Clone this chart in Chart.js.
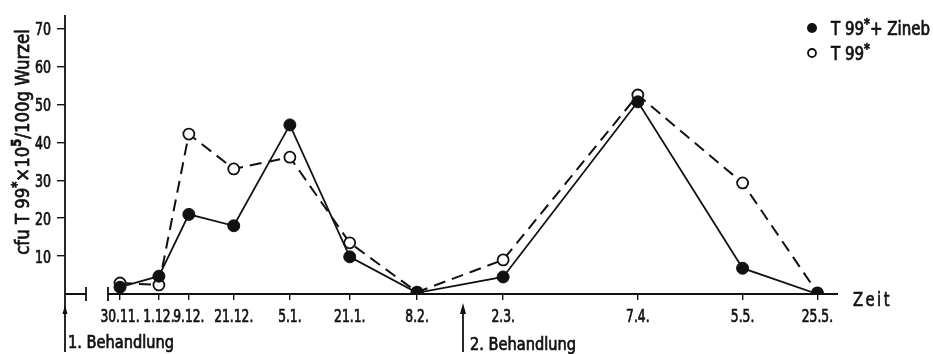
<!DOCTYPE html>
<html>
<head>
<meta charset="utf-8">
<script src="https://cdn.jsdelivr.net/npm/chart.js@4/dist/chart.umd.min.js"></script>
<style>
  html, body { margin: 0; padding: 0; background: #fff; }
  #wrap { width: 933px; height: 354px; }
</style>
</head>
<body>
<div id="wrap"><canvas id="cfuChart" width="933" height="354"></canvas></div>
<script>
// Probenahmetermine (Tage ab 1.12.; 30.11. ist im Original nicht maßstäblich eingetragen)
var dateLabels = ['30.11.', '1.12.', '9.12.', '21.12.', '5.1.', '21.1.', '8.2.', '2.3.', '7.4.', '5.5.', '25.5.'];
var dayOffsets = [-10.4, 0, 8, 20, 35, 51, 69, 92, 128, 156, 176];

// cfu T 99* x 10^5 / 100 g Wurzel
var withZineb = [1.8, 4.7, 21, 18, 44.6, 9.8, 0.3, 4.5, 50.7, 6.8, 0];
var withoutZineb = [2.9, 2.4, 42.2, 33, 36.1, 13.5, 0.5, 9, 52.5, 29.3, 0.3];

var yTicks = [0, 10, 20, 30, 40, 50, 60, 70];

var FONT = '"DejaVu Sans Condensed", "DejaVu Sans", sans-serif';

// Text horizontal gestaucht zeichnen (schmale Schrift wie im Original); parts: [{t, sup}]
function drawText(ctx, parts, x, y, size, align, sx) {
    if (typeof parts === 'string') parts = [{ t: parts }];
    var fontOf = function(p) { return (p.sup ? 'bold ' + Math.round(size * 0.72) : size) + 'px ' + FONT; };
    var widths = parts.map(function(p) {
        ctx.font = fontOf(p);
        return ctx.measureText(p.t).width * sx;
    });
    var total = widths.reduce(function(a, b) { return a + b; }, 0);
    var cx = align === 'center' ? x - total / 2 : align === 'right' ? x - total : x;
    parts.forEach(function(p, i) {
        ctx.save();
        ctx.font = fontOf(p);
        ctx.textAlign = 'left';
        ctx.translate(cx, p.sup ? y - size * 0.38 : y);
        ctx.scale(sx, 1);
        ctx.lineWidth = 0.7;
        ctx.fillText(p.t, 0, 0);
        ctx.strokeText(p.t, 0, 0);
        ctx.restore();
        cx += widths[i];
    });
    return total;
}

var decorations = {
    id: 'decorations',
    afterDraw: function(chart) {
        var ctx = chart.ctx;
        var xs = chart.scales.x, ys = chart.scales.y;
        var x0 = chart.chartArea.left, yb = ys.getPixelForValue(0);
        ctx.save();
        ctx.strokeStyle = '#111';
        ctx.fillStyle = '#111';
        ctx.lineWidth = 1.8;

        // y-Achse, nach unten als Pfeil "1. Behandlung" verlängert
        ctx.beginPath();
        ctx.moveTo(x0, chart.chartArea.top);
        ctx.lineTo(x0, 352);
        ctx.stroke();
        ctx.beginPath();
        ctx.moveTo(x0, 305); ctx.lineTo(x0 - 2.5, 314); ctx.lineTo(x0 + 2.5, 314); ctx.closePath();
        ctx.fill();

        // x-Achse mit Unterbrechung
        var b1 = x0 + 21, b2 = x0 + 43;
        ctx.beginPath();
        ctx.moveTo(x0, yb); ctx.lineTo(b1, yb);
        ctx.moveTo(b2, yb); ctx.lineTo(chart.chartArea.right, yb);
        ctx.moveTo(b1, yb - 7); ctx.lineTo(b1, yb + 7);
        ctx.moveTo(b2, yb - 7); ctx.lineTo(b2, yb + 7);
        ctx.stroke();

        // Pfeil "2. Behandlung"
        var xa = 463;
        ctx.beginPath();
        ctx.moveTo(xa, 312); ctx.lineTo(xa, 352);
        ctx.stroke();
        ctx.beginPath();
        ctx.moveTo(xa, 303); ctx.lineTo(xa - 3, 314); ctx.lineTo(xa + 3, 314); ctx.closePath();
        ctx.fill();

        ctx.textBaseline = 'alphabetic';

        // Achsenbeschriftungen
        xs.ticks.forEach(function(t, i) {
            drawText(ctx, dateLabels[i], xs.getPixelForValue(t.value), 322, 18, 'center', 0.76);
        });
        ys.ticks.forEach(function(t) {
            if (t.value === 0) return;
            drawText(ctx, String(t.value), 51, ys.getPixelForValue(t.value) + 6.5, 18, 'right', 0.78);
        });

        drawText(ctx, '1. Behandlung', x0 + 3, 348, 18, 'left', 0.9);
        drawText(ctx, '2. Behandlung', xa + 7, 350, 18, 'left', 0.9);

        // "Zeit"
        if ('letterSpacing' in ctx) ctx.letterSpacing = '3px';
        drawText(ctx, 'Zeit', chart.chartArea.right + 15, 306, 20, 'left', 0.82);
        if ('letterSpacing' in ctx) ctx.letterSpacing = '0px';

        // y-Achsentitel
        ctx.save();
        ctx.translate(29, 142);
        ctx.rotate(-Math.PI / 2);
        drawText(ctx, [{ t: 'cfu T 99' }, { t: '*', sup: true }, { t: '×10' }, { t: '5', sup: true }, { t: '/100g Wurzel' }], 0, 0, 20, 'center', 0.92);
        ctx.restore();

        // Legende
        ctx.beginPath();
        ctx.arc(812, 28, 5, 0, Math.PI * 2);
        ctx.fill();
        ctx.beginPath();
        ctx.lineWidth = 1.8;
        ctx.arc(812, 53, 4, 0, Math.PI * 2);
        ctx.stroke();
        drawText(ctx, [{ t: 'T 99' }, { t: '*', sup: true }, { t: '+ Zineb' }], 831, 35, 19, 'left', 0.88);
        drawText(ctx, [{ t: 'T 99' }, { t: '*', sup: true }], 831, 60, 19, 'left', 0.88);

        ctx.restore();
    }
};

new Chart(document.getElementById('cfuChart'), {
    type: 'line',
    data: {
        datasets: [{
            label: 'T 99* + Zineb',
            data: dayOffsets.map(function(d, i) { return { x: d, y: withZineb[i] }; }),
            borderColor: '#111',
            borderWidth: 1.8,
            pointBackgroundColor: '#111',
            pointBorderColor: '#111',
            pointRadius: 6,
            pointBorderWidth: 1,
            tension: 0
        }, {
            label: 'T 99*',
            data: dayOffsets.map(function(d, i) { return { x: d, y: withoutZineb[i] }; }),
            borderColor: '#111',
            borderWidth: 2,
            borderDash: [12, 7],
            pointBackgroundColor: '#fff',
            pointBorderColor: '#111',
            pointRadius: 5.5,
            pointBorderWidth: 1.8,
            tension: 0
        }]
    },
    options: {
        responsive: false,
        animation: false,
        events: [],
        layout: { padding: { top: 15, right: 95, left: 0, bottom: 0 } },
        plugins: {
            legend: { display: false },
            tooltip: { enabled: false }
        },
        scales: {
            x: {
                type: 'linear',
                min: -25.1,
                max: 181.5,
                afterBuildTicks: function(scale) {
                    scale.ticks = dayOffsets.map(function(d) { return { value: d }; });
                },
                afterFit: function(scale) { scale.height = 60; },
                border: { display: false },
                grid: {
                    drawOnChartArea: false,
                    drawTicks: true,
                    tickLength: 6,
                    color: '#111',
                    lineWidth: 1.4
                },
                ticks: { display: false, autoSkip: false }
            },
            y: {
                min: 0,
                max: 73.6,
                afterBuildTicks: function(scale) {
                    scale.ticks = yTicks.map(function(v) { return { value: v }; });
                },
                afterFit: function(scale) { scale.width = 65; },
                border: { display: false },
                grid: {
                    drawOnChartArea: false,
                    drawTicks: true,
                    tickLength: 8,
                    lineWidth: 1.4,
                    color: function(c) { return c.tick && c.tick.value === 0 ? 'rgba(0,0,0,0)' : '#111'; }
                },
                ticks: { display: false }
            }
        }
    },
    plugins: [decorations]
});
</script>
</body>
</html>
